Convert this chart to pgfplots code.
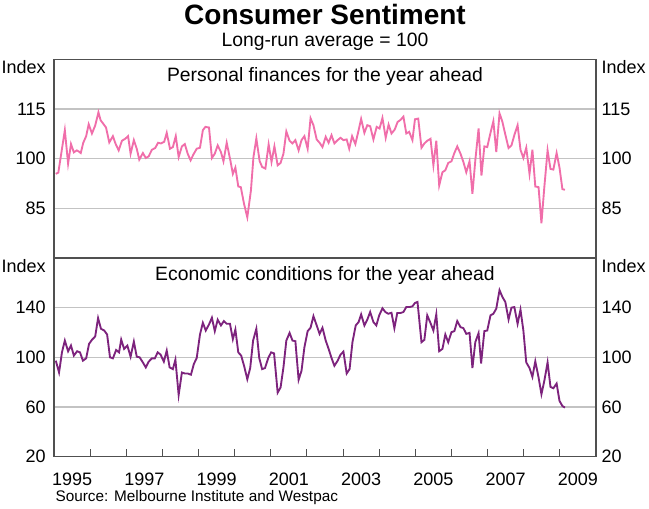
\documentclass[border=0pt]{standalone}
\usepackage{fontspec}
\setmainfont{Liberation Sans}
\usepackage{pgfplots}
\pgfplotsset{compat=1.18}
\definecolor{pinkl}{RGB}{240,110,170}
\definecolor{purpl}{RGB}{125,35,125}
\definecolor{gridc}{RGB}{195,195,195}
\definecolor{framec}{RGB}{80,80,80}
\newcommand{\tickfont}{\fontsize{13.5}{15}\selectfont}
\pgfplotsset{
  panel/.style={
    scale only axis, width=406.5pt, height=149pt,
    xmin=1995, xmax=2010, clip=false,
    axis line style={framec, line width=0.9pt},
    /pgf/number format/assume math mode=true,
    ticklabel style={font=\tickfont},
    ytick style={draw=none},
    ymajorgrids, grid style={gridc, line width=0.9pt},
  },
  rightpanel/.style={
    scale only axis, width=406.5pt, height=149pt,
    xmin=1995, xmax=2010,
    axis line style={draw=none},
    /pgf/number format/assume math mode=true,
    ticklabel style={font=\tickfont},
    ytick style={draw=none}, xtick=\empty,
    yticklabel pos=right,
    yticklabel style={inner sep=0pt, xshift=4pt},
  },
}
\begin{document}
\begin{tikzpicture}
\useasboundingbox (0,0) rectangle (486.75pt,-381.75pt);
\node[font=\fontsize{21}{24}\selectfont\bfseries] at (243.75pt,-11pt) {Consumer Sentiment};
\node[font=\fontsize{14.5}{17}\selectfont] at (243.75pt,-31.5pt) {Long-run average = 100};
% ---------- top panel ----------
\begin{axis}[panel, at={(40.5pt,-44.5pt)}, anchor=north west,
  ymin=70, ymax=130, ytick={85,100,115}, xtick=\empty,
  yticklabel style={inner sep=0pt, xshift=-6pt}]
\addplot[pinkl, line width=1.4pt] coordinates {
(1995.05,95.4)(1995.12,95.8)(1995.3,108.6)(1995.39,98.5)(1995.47,104.4)(1995.55,101.9)(1995.63,102.5)(1995.68,102.2)(1995.74,101.7)(1995.81,104.8)(1995.89,106.8)(1995.96,110.4)
(1996.05,107.6)(1996.14,110)(1996.23,114)(1996.29,111.6)(1996.36,110.6)(1996.44,109.4)(1996.53,104.9)(1996.63,106.8)(1996.7,104.6)(1996.79,102.5)(1996.88,105.4)(1996.97,106)
(1997.05,106.8)(1997.12,101.5)(1997.21,105.6)(1997.29,103)(1997.36,99.7)(1997.46,101.7)(1997.54,100.2)(1997.62,100.7)(1997.71,102.7)(1997.8,103.2)(1997.88,104.8)(1997.96,104.6)
(1998.05,105.1)(1998.12,107.8)(1998.21,103)(1998.29,103.5)(1998.37,106.8)(1998.45,100.5)(1998.54,103.7)(1998.62,104.4)(1998.7,101.5)(1998.78,99.5)(1998.86,101.3)(1998.95,103)
(1999.04,103.3)(1999.12,108.6)(1999.19,109.6)(1999.29,109.4)(1999.37,100.2)(1999.45,101.5)(1999.53,104)(1999.62,102)(1999.69,99.2)(1999.78,104.8)(1999.88,99.5)(1999.95,95.4)
(2000.02,97.3)(2000.1,91.6)(2000.17,91.4)(2000.26,86.3)(2000.35,82.3)(2000.45,90.4)(2000.52,100.5)(2000.6,106.1)(2000.69,99.3)(2000.76,97.5)(2000.85,97)(2000.94,104.3)
(2001.02,99)(2001.1,103.7)(2001.19,98)(2001.27,98.7)(2001.35,101.5)(2001.43,108.2)(2001.52,105.4)(2001.6,104.6)(2001.68,105.6)(2001.77,102.5)(2001.85,105.6)(2001.93,106.8)
(2002.02,103)(2002.1,112.2)(2002.18,110.1)(2002.27,105.8)(2002.35,104.8)(2002.43,103.5)(2002.52,106.6)(2002.6,104.8)(2002.68,107.1)(2002.76,104.6)(2002.85,105.6)(2002.93,106.3)
(2003.01,105.6)(2003.1,105.8)(2003.17,103)(2003.25,106.8)(2003.34,104.4)(2003.42,108.1)(2003.5,112)(2003.59,107.8)(2003.67,110.1)(2003.75,109.8)(2003.84,105.8)(2003.93,109.6)
(2004.01,109.1)(2004.09,112.3)(2004.18,106.3)(2004.26,110.3)(2004.34,107.6)(2004.43,108.8)(2004.51,111.1)(2004.59,111.7)(2004.67,112.7)(2004.75,107.6)(2004.83,108.1)(2004.92,105.6)
(2004.99,111.9)(2005.08,112.1)(2005.17,103.3)(2005.25,104.6)(2005.33,105.4)(2005.42,106)(2005.5,98)(2005.58,105.4)(2005.66,91.9)(2005.75,95.9)(2005.83,96.5)(2005.91,98.7)
(2006.0,99.2)(2006.08,101.7)(2006.16,103.7)(2006.25,101.5)(2006.33,99)(2006.41,95.9)(2006.5,99.2)(2006.58,89.4)(2006.66,99.5)(2006.75,109.1)(2006.83,94.9)(2006.91,103.7)
(2006.99,103.5)(2007.08,107.8)(2007.16,111.3)(2007.24,102)(2007.33,113.7)(2007.41,111.1)(2007.49,107.3)(2007.58,103.2)(2007.66,104)(2007.74,107.1)(2007.83,110.1)(2007.91,102.7)
(2007.99,100.2)(2008.07,103.3)(2008.16,95.4)(2008.24,102.7)(2008.32,91.6)(2008.41,91.4)(2008.49,80.5)(2008.57,91.4)(2008.66,102.5)(2008.74,96.9)(2008.82,96.7)(2008.91,101.7)
(2008.99,97.3)(2009.07,90.8)(2009.14,90.6)
};
\node[font=\fontsize{14.5}{17}\selectfont, anchor=north, inner sep=0pt] at (rel axis cs:0.5,1) [yshift=-6pt] {Personal finances for the year ahead};
\node[font=\tickfont, anchor=north east, inner sep=0pt] at (rel axis cs:0,1) [xshift=-6pt, yshift=-1pt] {Index};
\node[font=\tickfont, anchor=north west, inner sep=0pt] at (rel axis cs:1,1) [xshift=4pt, yshift=-1pt] {Index};
\end{axis}
\begin{axis}[rightpanel, at={(40.5pt,-44.5pt)}, anchor=north west,
  ymin=70, ymax=130, ytick={85,100,115}]
\end{axis}
% ---------- bottom panel ----------
\begin{axis}[panel, at={(40.5pt,-193.5pt)}, anchor=north west,
  ymin=20, ymax=180, ytick={20,60,100,140},
  xtick={1996,...,2009}, xticklabels={},
  xtick pos=bottom, xtick align=inside,
  x tick style={framec, line width=0.8pt}, major tick length=5.5pt,
  extra x ticks={1995.5,1997.5,1999.5,2001.5,2003.5,2005.5,2007.5,2009.5},
  extra x tick labels={1995,1997,1999,2001,2003,2005,2007,2009},
  extra x tick style={major tick length=0pt, grid=none, xticklabel style={yshift=-9pt}},
  yticklabel style={inner sep=0pt, xshift=-6pt}]
\addplot[purpl, line width=1.4pt] coordinates {
(1995.05,97.3)(1995.14,87.8)(1995.22,104)(1995.3,113.5)(1995.39,104.9)(1995.47,109.5)(1995.55,101.4)(1995.64,104.9)(1995.72,104)(1995.8,97.3)(1995.89,99.2)(1995.97,110.8)
(1996.05,114.1)(1996.14,116.8)(1996.22,131.6)(1996.3,123)(1996.39,121.6)(1996.47,118.4)(1996.55,100)(1996.63,99.2)(1996.72,105.9)(1996.8,104)(1996.86,114.3)(1996.94,106.8)
(1997.03,109.5)(1997.12,100.5)(1997.21,112.7)(1997.29,100.5)(1997.37,100)(1997.46,95.9)(1997.54,91.9)(1997.62,96.5)(1997.71,99.2)(1997.79,99.2)(1997.87,104)(1997.95,102.2)
(1998.04,96.5)(1998.12,105.4)(1998.2,91.9)(1998.29,90.5)(1998.36,98.1)(1998.45,69.7)(1998.54,87.8)(1998.62,87)(1998.7,87)(1998.79,86)(1998.87,94.6)(1998.95,99.5)
(1999.04,118.4)(1999.12,127.8)(1999.2,121.6)(1999.29,126.5)(1999.37,131.9)(1999.45,121.1)(1999.53,130.3)(1999.62,125.7)(1999.7,129.2)(1999.78,127)(1999.87,127)(1999.95,114.6)
(2000.02,122.4)(2000.1,104)(2000.18,101.4)(2000.26,93.2)(2000.35,82.4)(2000.43,91.4)(2000.51,113.5)(2000.6,123)(2000.68,99.5)(2000.76,90.5)(2000.84,91.4)(2000.93,99.5)
(2001.01,104)(2001.09,103.2)(2001.19,71.6)(2001.27,75.7)(2001.35,91.9)(2001.43,113.5)(2001.52,119.7)(2001.6,113.5)(2001.68,113)(2001.77,81.9)(2001.85,89.2)(2001.93,108.1)
(2002.02,121.1)(2002.1,123.8)(2002.18,133.2)(2002.27,125.7)(2002.35,118.9)(2002.43,123.8)(2002.52,113.5)(2002.6,106.8)(2002.68,99.5)(2002.76,93.2)(2002.85,97.3)(2002.93,102.2)
(2003.01,104.6)(2003.1,87)(2003.18,90.5)(2003.26,112.2)(2003.35,125.7)(2003.43,128.4)(2003.5,134.6)(2003.59,125.7)(2003.67,130.3)(2003.75,136.5)(2003.84,128.4)(2003.92,125.7)
(2004.0,133.8)(2004.09,139.5)(2004.17,136.5)(2004.25,135.1)(2004.34,135.9)(2004.42,123.5)(2004.5,135.7)(2004.59,135.7)(2004.67,136.5)(2004.75,140.5)(2004.84,140.5)(2004.92,141.1)
(2004.99,143.8)(2005.06,144.6)(2005.17,112.2)(2005.25,114.1)(2005.33,133.8)(2005.42,127.6)(2005.5,121.6)(2005.58,134.6)(2005.66,104.9)(2005.75,106.8)(2005.83,118.4)(2005.91,112.2)
(2006.0,120.3)(2006.08,121.1)(2006.16,129.2)(2006.25,124.3)(2006.33,123.5)(2006.41,118.9)(2006.5,119.7)(2006.58,91.4)(2006.66,112.2)(2006.75,119.5)(2006.82,95.1)(2006.91,121.1)
(2006.99,121.6)(2007.08,133.8)(2007.16,135.1)(2007.24,139.2)(2007.33,154.1)(2007.41,148.6)(2007.49,144.6)(2007.58,130.5)(2007.66,140)(2007.74,140.5)(2007.83,127)(2007.91,138.4)
(2007.99,121.6)(2008.07,95.9)(2008.16,91.4)(2008.24,84.3)(2008.32,96.8)(2008.41,83.8)(2008.49,70.3)(2008.57,81.1)(2008.66,95.9)(2008.74,76.2)(2008.82,75.1)(2008.91,78.9)
(2008.99,64.9)(2009.07,60.8)(2009.14,59.5)
};
\node[font=\fontsize{14.5}{17}\selectfont, anchor=north, inner sep=0pt] at (rel axis cs:0.5,1) [yshift=-6pt] {Economic conditions for the year ahead};
\node[font=\tickfont, anchor=north east, inner sep=0pt] at (rel axis cs:0,1) [xshift=-6pt, yshift=-1pt] {Index};
\node[font=\tickfont, anchor=north west, inner sep=0pt] at (rel axis cs:1,1) [xshift=4pt, yshift=-1pt] {Index};
\end{axis}
\begin{axis}[rightpanel, at={(40.5pt,-193.5pt)}, anchor=north west,
  ymin=20, ymax=180, ytick={20,60,100,140}]
\end{axis}
\node[font=\fontsize{11.5}{13}\selectfont, anchor=west, inner sep=0pt] at (41.5pt,-373.5pt) {Source: Melbourne Institute and Westpac};
\end{tikzpicture}
\end{document}
